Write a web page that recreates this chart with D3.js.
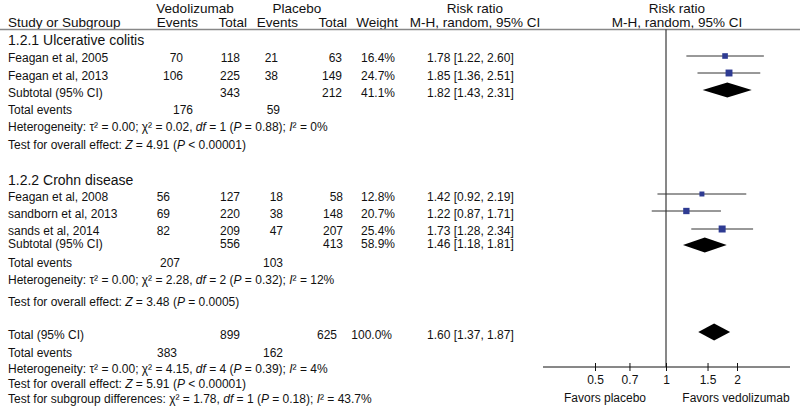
<!DOCTYPE html>
<html>
<head>
<meta charset="utf-8">
<script src="https://cdn.jsdelivr.net/npm/d3@7"></script>
<style>
    body { margin: 0; background: #fff; }
    text { font-family: "Liberation Sans", Arial, sans-serif; fill: #111; }
</style>
</head>
<body>
<div id="forest"></div>
<script>
// study level data
var studyNames = ["Feagan et al, 2005", "Feagan et al, 2013", "Feagan et al, 2008", "sandborn et al, 2013", "sands et al, 2014"];
var studyGroup = [0, 0, 1, 1, 1];
var vedEvents = [70, 106, 56, 69, 82];
var vedTotal = [118, 225, 127, 220, 209];
var plaEvents = [21, 38, 18, 38, 47];
var plaTotal = [63, 149, 58, 148, 207];
var weights = [16.4, 24.7, 12.8, 20.7, 25.4];
var riskRatio = [1.78, 1.85, 1.42, 1.22, 1.73];
var ciLow = [1.22, 1.36, 0.92, 0.87, 1.28];
var ciHigh = [2.60, 2.51, 2.19, 1.71, 2.34];

// subgroups
var groupNames = ["1.2.1 Ulcerative colitis", "1.2.2 Crohn disease"];
var subVedTotal = [343, 556];
var subPlaTotal = [212, 413];
var subWeight = [41.1, 58.9];
var subRR = [1.82, 1.46];
var subLow = [1.43, 1.18];
var subHigh = [2.31, 1.81];
var subVedEvents = [176, 207];
var subPlaEvents = [59, 103];
var hetTau = ["0.00", "0.00"];
var hetChi = ["0.02", "2.28"];
var hetDf = [1, 2];
var hetP = ["0.88", "0.32"];
var hetI2 = ["0%", "12%"];
var testZ = ["4.91", "3.48"];
var testP = ["< 0.00001", "= 0.0005"];

// overall
var totVedTotal = 899, totPlaTotal = 625, totWeight = 100.0;
var totRR = 1.60, totLow = 1.37, totHigh = 1.87;
var totVedEvents = 383, totPlaEvents = 162;
var totHet = { tau: "0.00", chi: "4.15", df: 4, p: "0.39", i2: "4%" };
var totTest = { z: "5.91", p: "< 0.00001" };
var subDiff = { chi: "1.78", df: 1, p: "0.18", i2: "43.7%" };

var axisTicks = [0.5, 0.7, 1, 1.5, 2];

// layout
var width = 800, height = 413;
var groupTitleY = [45, 185];
var studyY = [62, 80, 201, 218, 235];
var markY = [56, 73, 194, 211, 229];
var subtotalY = [97, 247.5];
var subMarkY = [90, 245];
var eventsY = [114, 267];
var hetY = [131, 284];
var testY = [149, 306];
var vedEventsX = [183, 170];
var plaEventsX = [278, 283];
var plaTotalX = [342, 343];
var axisY = 367, ruleY = 29.5;

var svg = d3.select("#forest").append("svg")
    .attr("width", width)
    .attr("height", height);

svg.append("rect").attr("width", width).attr("height", height).attr("fill", "#fff");

function addText(x, y, parts, anchor, size) {
    var t = svg.append("text")
        .attr("x", x)
        .attr("y", y)
        .attr("text-anchor", anchor || "start")
        .style("font-size", (size || 12) + "px");
    if (typeof parts === "string") parts = [[parts]];
    parts.forEach(function (p) {
        t.append("tspan").text(p[0]).style("font-style", p[1] ? "italic" : null);
    });
    return t;
}

function rrText(r, lo, hi) {
    return r.toFixed(2) + " [" + lo.toFixed(2) + ", " + hi.toFixed(2) + "]";
}

function hetParts(tau, chi, df, p, i2) {
    return [["Heterogeneity: τ² = " + tau + "; χ² = " + chi + ", "], ["df", true], [" = " + df + " ("],
        ["P", true], [" = " + p + "); "], ["I", true], ["² = " + i2]];
}

function testParts(z, p) {
    return [["Test for overall effect: "], ["Z", true], [" = " + z + " ("], ["P", true], [" " + p + ")"]];
}

// header
addText(195, 13, "Vedolizumab", "middle", 13.5);
addText(297, 13, "Placebo", "middle", 13.5);
addText(475, 13, "Risk ratio", "middle", 13.5);
addText(677, 13, "Risk ratio", "middle", 13.5);
addText(8, 26.5, "Study or Subgroup", "start", 13.5);
addText(198, 26.5, "Events", "end", 13.5);
addText(247, 26.5, "Total", "end", 13.5);
addText(298, 26.5, "Events", "end", 13.5);
addText(347, 26.5, "Total", "end", 13.5);
addText(398, 26.5, "Weight", "end", 13.5);
addText(475, 26.5, "M-H, random, 95% CI", "middle", 13.5);
addText(677, 26.5, "M-H, random, 95% CI", "middle", 13.5);

svg.append("line")
    .attr("x1", 0).attr("x2", width)
    .attr("y1", ruleY).attr("y2", ruleY)
    .attr("stroke", "#888").attr("stroke-width", 1.5);

var x = d3.scaleLog().domain([0.5, 2]).range([595, 737]);
var boxSize = d3.scaleSqrt().domain([0, 25.4]).range([0, 7]);

// vertical line of no effect
svg.append("line")
    .attr("x1", x(1)).attr("x2", x(1))
    .attr("y1", ruleY).attr("y2", axisY)
    .attr("stroke", "#111").attr("stroke-width", 1);

// table: studies
studyNames.forEach(function (name, i) {
    var g = studyGroup[i], y = studyY[i];
    addText(8, y, name);
    addText(vedEventsX[g], y, String(vedEvents[i]), "end");
    addText(240, y, String(vedTotal[i]), "end");
    addText(plaEventsX[g], y, String(plaEvents[i]), "end");
    addText(plaTotalX[g], y, String(plaTotal[i]), "end");
    addText(395, y, weights[i].toFixed(1) + "%", "end");
    addText(427, y, rrText(riskRatio[i], ciLow[i], ciHigh[i]));
});

// table: subgroups
groupNames.forEach(function (name, g) {
    addText(8, groupTitleY[g], name, "start", 14);
    addText(8, subtotalY[g], "Subtotal (95% CI)");
    addText(240, subtotalY[g], String(subVedTotal[g]), "end");
    addText(plaTotalX[g], subtotalY[g], String(subPlaTotal[g]), "end");
    addText(395, subtotalY[g], subWeight[g].toFixed(1) + "%", "end");
    addText(427, subtotalY[g], rrText(subRR[g], subLow[g], subHigh[g]));
    addText(8, eventsY[g], "Total events");
    addText([193, 180][g], eventsY[g], String(subVedEvents[g]), "end");
    addText([280, 283][g], eventsY[g], String(subPlaEvents[g]), "end");
    addText(8, hetY[g], hetParts(hetTau[g], hetChi[g], hetDf[g], hetP[g], hetI2[g]));
    addText(8, testY[g], testParts(testZ[g], testP[g]));
});

// table: overall
addText(8, 339, "Total (95% CI)");
addText(240, 339, String(totVedTotal), "end");
addText(337, 339, String(totPlaTotal), "end");
addText(392, 339, totWeight.toFixed(1) + "%", "end");
addText(427, 339, rrText(totRR, totLow, totHigh));
addText(8, 357, "Total events");
addText(177, 357, String(totVedEvents), "end");
addText(283, 357, String(totPlaEvents), "end");
addText(8, 373, hetParts(totHet.tau, totHet.chi, totHet.df, totHet.p, totHet.i2));
addText(8, 387.5, testParts(totTest.z, totTest.p));
addText(8, 402.5, [["Test for subgroup differences: χ² = " + subDiff.chi + ", "], ["df", true], [" = " + subDiff.df + " ("],
    ["P", true], [" = " + subDiff.p + "); "], ["I", true], ["² = " + subDiff.i2]]);

// forest: confidence intervals and boxes
var studyIdx = d3.range(studyNames.length);
svg.append("g").selectAll("line")
    .data(studyIdx)
    .enter()
    .append("line")
    .attr("x1", function (i) { return x(ciLow[i]); })
    .attr("x2", function (i) { return x(ciHigh[i]); })
    .attr("y1", function (i) { return markY[i]; })
    .attr("y2", function (i) { return markY[i]; })
    .attr("stroke", "#333")
    .attr("stroke-width", 1);

svg.append("g").selectAll("rect")
    .data(studyIdx)
    .enter()
    .append("rect")
    .attr("x", function (i) { return x(riskRatio[i]) - boxSize(weights[i]) / 2; })
    .attr("y", function (i) { return markY[i] - boxSize(weights[i]) / 2; })
    .attr("width", function (i) { return boxSize(weights[i]); })
    .attr("height", function (i) { return boxSize(weights[i]); })
    .attr("fill", "#2e3b92");

// diamonds
function diamond(r, lo, hi, y, h) {
    return "M" + x(lo) + "," + y + "L" + x(r) + "," + (y - h) + "L" + x(hi) + "," + y + "L" + x(r) + "," + (y + h) + "Z";
}
svg.append("g").selectAll("path")
    .data([0, 1])
    .enter()
    .append("path")
    .attr("d", function (g) { return diamond(subRR[g], subLow[g], subHigh[g], subMarkY[g], 7.5); })
    .attr("fill", "#000");
svg.append("path")
    .attr("d", diamond(totRR, totLow, totHigh, 332, 8.5))
    .attr("fill", "#000");

// axis
svg.append("line")
    .attr("x1", 543).attr("x2", 790)
    .attr("y1", axisY).attr("y2", axisY)
    .attr("stroke", "#111").attr("stroke-width", 1);

var xAxis = svg.append("g")
    .attr("transform", "translate(0," + axisY + ")")
    .call(d3.axisBottom(x).tickValues(axisTicks).tickSize(4).tickFormat(d3.format("")));
xAxis.select(".domain").remove();
xAxis.selectAll(".tick line").attr("y1", -4).attr("stroke", "#111");
xAxis.selectAll(".tick text")
    .attr("y", 8)
    .style("font-size", "12px")
    .attr("fill", "#111");

addText(605, 402, "Favors placebo", "middle", 12);
addText(736, 402, "Favors vedolizumab", "middle", 12);
</script>
</body>
</html>
